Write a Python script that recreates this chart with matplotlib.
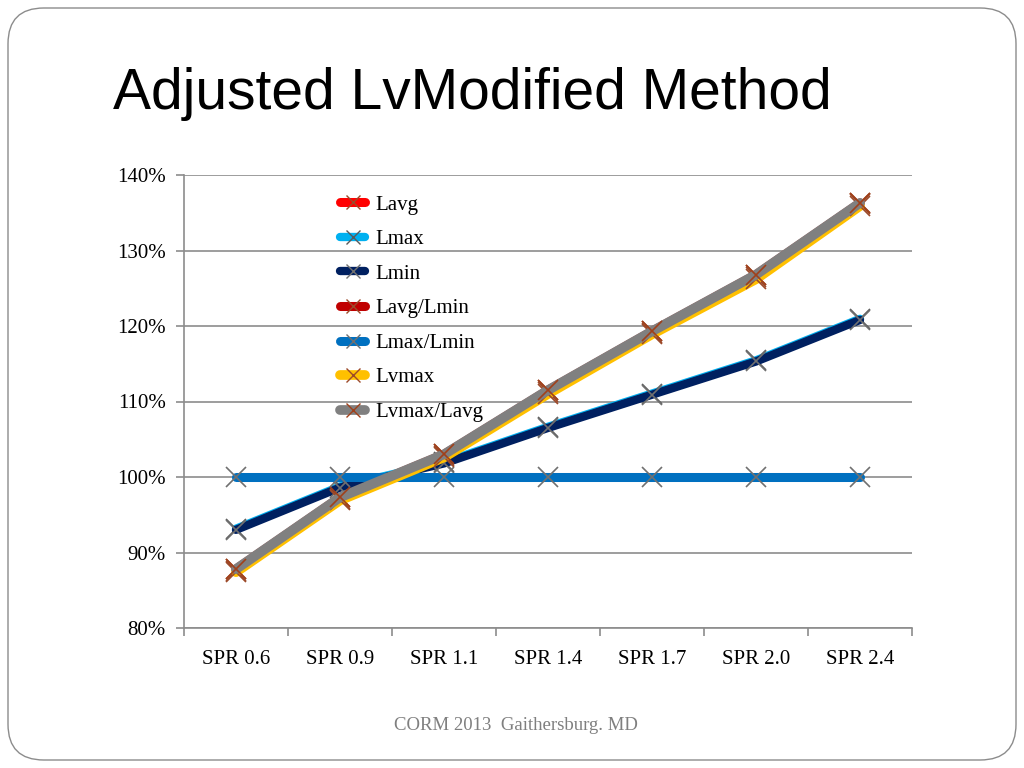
import matplotlib
matplotlib.use("Agg")
import matplotlib.pyplot as plt
from matplotlib.patches import FancyBboxPatch
from matplotlib.ticker import FixedLocator, FuncFormatter

categories = ["SPR 0.6", "SPR 0.9", "SPR 1.1", "SPR 1.4", "SPR 1.7", "SPR 2.0", "SPR 2.4"]
lavg = [87.8, 97.3, 103.0, 111.5, 119.3, 126.8, 136.3]
lmax = [93.15, 98.75, 101.95, 106.65, 111.05, 115.45, 120.95]
lmin = [93.0, 98.6, 101.8, 106.5, 110.9, 115.3, 120.8]
lavg_lmin = [87.6, 97.1, 102.8, 111.3, 119.1, 126.5, 136.1]
lmax_lmin = [100, 100, 100, 100, 100, 100, 100]
lvmax = [87.4, 96.9, 102.6, 111.0, 118.9, 126.2, 135.9]
lvmax_lavg = [87.8, 97.3, 103.0, 111.5, 119.3, 126.8, 136.3]

series = [
    ("Lavg", lavg, "#ff0000", "#9c4a2a", 6.5),
    ("Lmax", lmax, "#00b0f0", "#5a5a5a", 6.0),
    ("Lmin", lmin, "#002060", "#707070", 6.0),
    ("Lavg/Lmin", lavg_lmin, "#c00000", "#9c4a2a", 6.5),
    ("Lmax/Lmin", lmax_lmin, "#0070c0", "#707070", 6.5),
    ("Lvmax", lvmax, "#ffc000", "#9c4a2a", 7.0),
    ("Lvmax/Lavg", lvmax_lavg, "#808080", "#a0401a", 7.0),
]

fig = plt.figure(figsize=(10.24, 7.68), dpi=100)
fig.patch.set_facecolor("white")

border = FancyBboxPatch((8 / 1024, 8 / 768), 1008 / 1024, 752 / 768,
                        boxstyle="round,pad=0,rounding_size=0.035",
                        transform=fig.transFigure, facecolor="none",
                        edgecolor="#8c8c8c", linewidth=1.0,
                        mutation_aspect=1024 / 768)
fig.patches.append(border)

fig.text(113 / 1024, 1 - 94 / 768, "Adjusted LvModified Method",
         fontsize=41, family="Liberation Sans", color="black",
         ha="left", va="center")

fig.text(516 / 1024, 1 - 725 / 768, "CORM 2013  Gaithersburg. MD",
         fontsize=13.5, family="Liberation Serif", color="#7f7f7f",
         ha="center", va="center")

ax = fig.add_axes([184 / 1024, 1 - 628 / 768, 728 / 1024, 453 / 768])
x = list(range(len(categories)))

for name, vals, col, mcol, lw in series:
    ax.plot(x, vals, color=col, linewidth=lw, solid_capstyle="round",
            solid_joinstyle="round", marker="x", markersize=15,
            markeredgecolor=mcol, markeredgewidth=1.2, label=name)

ax.set_xlim(-0.5, len(categories) - 0.5)
ax.set_ylim(80, 140)
ax.set_yticks([80, 90, 100, 110, 120, 130, 140])
ax.yaxis.set_major_formatter(FuncFormatter(lambda v, p: f"{int(round(v))}%"))
ax.grid(axis="y", color="#8c8c8c", linewidth=1.2)
ax.set_axisbelow(True)

ax.xaxis.set_major_locator(FixedLocator([i - 0.5 for i in range(len(categories) + 1)]))
ax.xaxis.set_minor_locator(FixedLocator(x))
ax.set_xticklabels([], minor=False)
ax.set_xticklabels(categories, minor=True)
ax.tick_params(axis="x", which="major", length=6, color="#8c8c8c", width=1.2)
ax.tick_params(axis="x", which="minor", length=0, pad=16)
ax.tick_params(axis="y", length=6, color="#8c8c8c", width=1.2, pad=7)
for lab in ax.get_xticklabels(minor=True) + ax.get_yticklabels():
    lab.set_fontfamily("Liberation Serif")
    lab.set_fontsize(15)

for s in ["top", "right"]:
    ax.spines[s].set_visible(False)
for s in ["left", "bottom"]:
    ax.spines[s].set_color("#8c8c8c")
    ax.spines[s].set_linewidth(1.2)

leg = ax.legend(loc="upper left", bbox_to_anchor=(156 / 728, 1 - 20 / 453),
                frameon=False, numpoints=1, handlelength=1.2,
                handletextpad=0.5, labelspacing=0.72,
                prop={"family": "Liberation Serif", "size": 15},
                borderaxespad=0, borderpad=0)
for line in leg.get_lines():
    line.set_solid_capstyle("round")
    line.set_markersize(10)
    line.set_markeredgewidth(1.0)

fig.savefig("out.png", dpi=100, facecolor="white")
